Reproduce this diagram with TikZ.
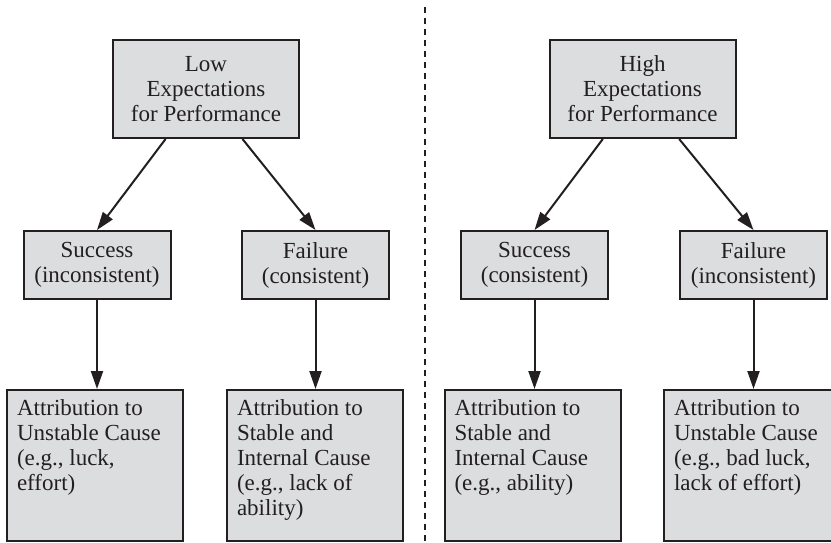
\documentclass[tikz,border=0pt]{standalone}
\usepackage{fontspec}
\setmainfont{Liberation Serif}
\usetikzlibrary{arrows.meta,calc}
\definecolor{boxfill}{HTML}{DCDDDF}
\definecolor{ink}{HTML}{231F20}
\begin{document}
\begin{tikzpicture}[x=1pt,y=-1pt,
  box/.style={draw=ink, fill=boxfill, line width=2pt, inner sep=0pt,
    font=\fontsize{23}{25}\selectfont, text=ink},
  topbox/.style={box, minimum width=186pt, minimum height=98pt, align=center},
  midbox/.style={box, minimum width=147pt, minimum height=68pt, align=center},
  attrbox/.style={box, minimum width=176pt, minimum height=151pt, inner sep=10pt},
  arr/.style={draw=ink, line width=2pt, -{Triangle[length=18pt,width=12pt]}},
  divider/.style={draw=ink, line width=1.8pt, dash pattern=on 6pt off 5pt}]
\useasboundingbox (0,0) rectangle (831,543);
\clip (0,0) rectangle (831,543);

% left half
\node[topbox] (lowexp) at (206,89) {Low\\Expectations\\for Performance};
\node[midbox] (succL) at (97,265) {Success\\(inconsistent)};
\node[midbox] (failL) at (315.5,265) {Failure\\(consistent)};
\node[attrbox] (attrLa) at (95,465.5)
  {\parbox[c][131pt][t]{156pt}{\raggedright Attribution to\\Unstable Cause\\(e.g., luck,\\effort)}};
\node[attrbox] (attrLb) at (315,465.5)
  {\parbox[c][131pt][t]{156pt}{\raggedright Attribution to\\Stable and\\Internal Cause\\(e.g., lack of\\ability)}};

% right half
\node[topbox] (highexp) at (642.5,89) {High\\Expectations\\for Performance};
\node[midbox] (succR) at (534.5,265) {Success\\(consistent)};
\node[midbox] (failR) at (753.5,265) {Failure\\(inconsistent)};
\node[attrbox] (attrRa) at (532.5,465.5)
  {\parbox[c][131pt][t]{156pt}{\raggedright Attribution to\\Stable and\\Internal Cause\\(e.g., ability)}};
\node[attrbox] (attrRb) at (752,465.5)
  {\parbox[c][131pt][t]{156pt}{\raggedright Attribution to\\Unstable Cause\\(e.g., bad luck,\\lack of effort)}};

% connectors
\draw[arr] ($(lowexp.south west)!0.285!(lowexp.south east)$) -- (succL.north);
\draw[arr] ($(lowexp.south west)!0.694!(lowexp.south east)$) -- (failL.north);
\draw[arr] ($(highexp.south west)!0.289!(highexp.south east)$) -- (succR.north);
\draw[arr] ($(highexp.south west)!0.695!(highexp.south east)$) -- (failR.north);
\draw[arr] (succL.south) -- (succL.south |- attrLa.north);
\draw[arr] (failL.south) -- (failL.south |- attrLb.north);
\draw[arr] (succR.south) -- (succR.south |- attrRa.north);
\draw[arr] (failR.south) -- (failR.south |- attrRb.north);

% divider
\coordinate (divtop) at (425,7);
\coordinate (divbot) at (425,543);
\draw[divider] (divtop) -- (divbot);
\end{tikzpicture}
\end{document}
